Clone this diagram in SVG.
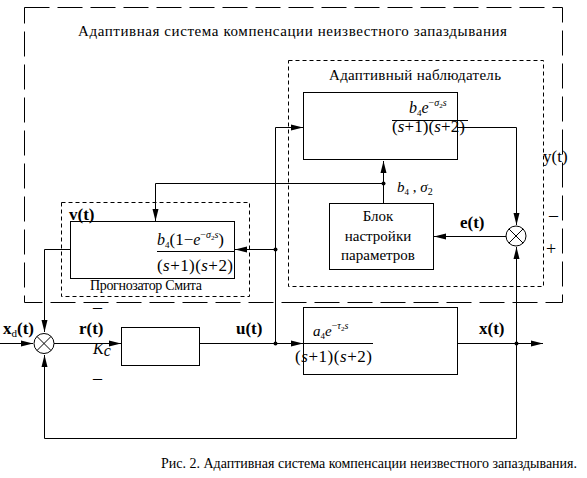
<svg xmlns="http://www.w3.org/2000/svg" width="587" height="478" viewBox="0 0 587 478" font-family="Liberation Serif, serif">
<style>
.t{font-family:"Liberation Serif",serif;fill:#000}
.b{font-weight:bold}
.i{font-style:italic}
.box{fill:none;stroke:#000;stroke-width:1}
.ln{fill:none;stroke:#000;stroke-width:1}
.ld{fill:none;stroke:#000;stroke-width:1;stroke-dasharray:25 8}
.sd{fill:none;stroke:#000;stroke-width:1;stroke-dasharray:4 3}
</style>
<defs>
<marker id="ar" markerUnits="userSpaceOnUse" markerWidth="13" markerHeight="7" refX="12" refY="3.5" orient="auto">
<path d="M0,0.5 L12,3.5 L0,6.5 z" fill="#000"/>
</marker>
</defs>
<rect width="587" height="478" fill="#fff"/>

<g id="frames">
<rect class="ld" x="24.5" y="7.5" width="538" height="295"/>
<text class="t" x="78" y="36" style="font-size:15px" textLength="429">Адаптивная система компенсации неизвестного запаздывания</text>
<rect class="sd" x="288.5" y="60.5" width="255" height="226"/>
<text class="t" x="329" y="80" style="font-size:15px" textLength="172">Адаптивный наблюдатель</text>
<rect class="sd" x="61.5" y="202.5" width="188" height="94"/>
<text class="t" x="90" y="290" style="font-size:14px" textLength="112">Прогнозатор Смита</text>
</g>

<g id="observer-model">
<rect class="box" x="303.5" y="92.5" width="154" height="67"/>
<text class="t" x="409" y="113" style="font-size:16px"><tspan class="i">b</tspan><tspan style="font-size:9px" dy="3">4</tspan><tspan class="i" dy="-3">e</tspan><tspan style="font-size:10px" dy="-7">−</tspan><tspan class="i" style="font-size:10px">σ</tspan><tspan style="font-size:7px" dy="2">2</tspan><tspan class="i" style="font-size:10px" dy="-2">s</tspan></text>
<line class="ln" x1="392" y1="120.5" x2="468" y2="120.5"/>
<text class="t" x="392" y="132" style="font-size:17px" textLength="73">(<tspan class="i">s</tspan>+1)(<tspan class="i">s</tspan>+2)</text>
</g>

<g id="tuning-block">
<rect class="box" x="329.5" y="203.5" width="104" height="66"/>
<text class="t" x="378" y="221" style="font-size:15px" text-anchor="middle">Блок</text>
<text class="t" x="378" y="241" style="font-size:15px" text-anchor="middle">настройки</text>
<text class="t" x="378" y="260" style="font-size:15px" text-anchor="middle">параметров</text>
</g>

<g id="smith-predictor">
<rect class="box" x="70.5" y="221.5" width="164" height="57"/>
<text class="t" x="157" y="245" style="font-size:16px"><tspan class="i">b</tspan><tspan style="font-size:9px" dy="3">4</tspan><tspan style="font-size:17px" dy="-3">(1−</tspan><tspan class="i">e</tspan><tspan style="font-size:10px" dy="-7">−</tspan><tspan class="i" style="font-size:10px">σ</tspan><tspan style="font-size:7px" dy="2">2</tspan><tspan class="i" style="font-size:10px" dy="-2">s</tspan><tspan style="font-size:17px" dy="7">)</tspan></text>
<line class="ln" x1="157" y1="251.5" x2="234" y2="251.5"/>
<text class="t" x="157" y="271" style="font-size:17px" textLength="76">(<tspan class="i">s</tspan>+1)(<tspan class="i">s</tspan>+2)</text>
</g>

<g id="controller">
<rect class="box" x="121.5" y="327.5" width="78" height="38"/>
</g>

<g id="plant">
<rect class="box" x="303.5" y="307.5" width="154" height="67"/>
<text class="t" x="313" y="336" style="font-size:15px"><tspan class="i">a</tspan><tspan style="font-size:9px" dy="3">4</tspan><tspan class="i" dy="-3">e</tspan><tspan style="font-size:10px" dy="-7">−</tspan><tspan class="i" style="font-size:10px">τ</tspan><tspan style="font-size:7px" dy="2">2</tspan><tspan class="i" style="font-size:10px" dy="-2">s</tspan></text>
<line class="ln" x1="296" y1="343.5" x2="373" y2="343.5"/>
<text class="t" x="295" y="362" style="font-size:17px" textLength="77">(<tspan class="i">s</tspan>+1)(<tspan class="i">s</tspan>+2)</text>
</g>

<g id="sum-main">
<circle class="box" cx="44" cy="343.5" r="10"/>
<path class="ln" d="M36.9,336.4 L51.1,350.6 M51.1,336.4 L36.9,350.6"/>
</g>

<g id="sum-error">
<circle class="box" cx="516" cy="236" r="10"/>
<path class="ln" d="M508.9,228.9 L523.1,243.1 M523.1,228.9 L508.9,243.1"/>
</g>

<g id="connectors">
<path class="ln" d="M0,343.5 H33" marker-end="url(#ar)"/>
<path class="ln" d="M54,343.5 H121" marker-end="url(#ar)"/>
<path class="ln" d="M199.5,343.5 H303" marker-end="url(#ar)"/>
<path class="ln" d="M457.5,343.5 H543" marker-end="url(#ar)"/>
<path class="ln" d="M516.5,343.5 V438.5 H44.5 V355" marker-end="url(#ar)"/>
<path class="ln" d="M516.5,343.5 V247" marker-end="url(#ar)"/>
<path class="ln" d="M457.5,127.5 H516.5 V225" marker-end="url(#ar)"/>
<path class="ln" d="M506,236.5 H434" marker-end="url(#ar)"/>
<path class="ln" d="M383.5,203.5 V161" marker-end="url(#ar)"/>
<path class="ln" d="M383.5,183.5 H155.5 V221" marker-end="url(#ar)"/>
<path class="ln" d="M275.5,343.5 V127.5 H303" marker-end="url(#ar)"/>
<path class="ln" d="M275.5,249.5 H235" marker-end="url(#ar)"/>
<path class="ln" d="M70.5,249.5 H44.5 V332" marker-end="url(#ar)"/>
<circle cx="275.5" cy="343.5" r="2"/>
<circle cx="516.5" cy="343.5" r="2"/>
<circle cx="383.5" cy="183.5" r="2"/>
<circle cx="275.5" cy="249.5" r="2"/>
</g>

<g id="labels">
<text class="t b" x="3" y="334" style="font-size:17px">x<tspan style="font-size:11px;font-weight:normal" dy="3">d</tspan><tspan dy="-3">(t)</tspan></text>
<text class="t b" x="79" y="334" style="font-size:17px">r(t)</text>
<text class="t i" x="93" y="354" style="font-size:16px">K<tspan dy="2">c</tspan></text>
<text class="t b" x="236" y="334" style="font-size:17px">u(t)</text>
<text class="t b" x="479" y="334" style="font-size:17px">x(t)</text>
<text class="t" x="543" y="162" style="font-size:17px">y(t)</text>
<text class="t b" x="460" y="228" style="font-size:17px">e(t)</text>
<text class="t b" x="69" y="220" style="font-size:17px">v(t)</text>
<text class="t" x="397" y="192" style="font-size:15px"><tspan class="i">b</tspan><tspan style="font-size:9px" dy="3">4</tspan><tspan dy="-3"> , </tspan><tspan class="i">σ</tspan><tspan style="font-size:10px" dy="3">2</tspan></text>
<text class="t" x="93" y="313" style="font-size:18px">–</text>
<text class="t" x="93" y="384" style="font-size:18px">–</text>
<text class="t" x="549" y="221" style="font-size:18px">–</text>
<text class="t" x="546" y="255" style="font-size:18px">+</text>
<text class="t" x="161" y="468" style="font-size:14px" textLength="416">Рис. 2. Адаптивная система компенсации неизвестного запаздывания.</text>
</g>
</svg>
